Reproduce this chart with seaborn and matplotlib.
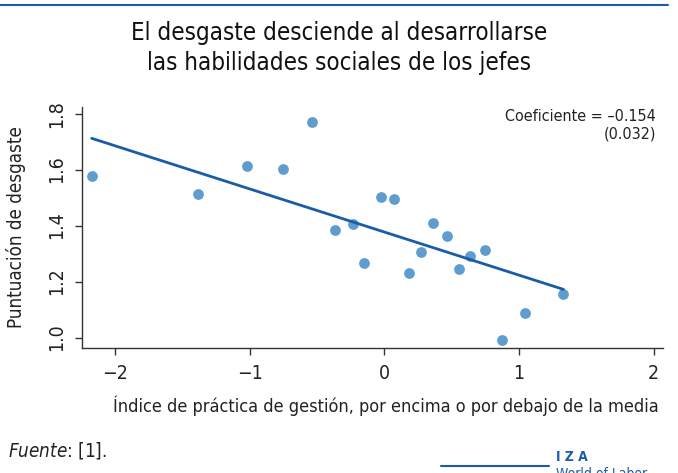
import matplotlib
matplotlib.use('Agg')
import matplotlib.pyplot as plt
import seaborn as sns
import pandas as pd
import numpy as np
from matplotlib.lines import Line2D

# Management practice index (x) vs burnout score (y)
indice = [-2.174, -1.386, -1.020, -0.753, -0.537, -0.364, -0.235, -0.148, -0.027, 0.072,
          0.181, 0.275, 0.362, 0.466, 0.553, 0.639, 0.748, 0.877, 1.045, 1.330]
desgaste = [1.576, 1.513, 1.614, 1.601, 1.769, 1.386, 1.407, 1.267, 1.502, 1.495,
            1.230, 1.304, 1.408, 1.363, 1.246, 1.292, 1.312, 0.990, 1.087, 1.156]
coef = -0.154
intercept = 1.377
x_ticks = [-2, -1, 0, 1, 2]
y_ticks = [1.0, 1.2, 1.4, 1.6, 1.8]

df = pd.DataFrame({'indice': indice, 'desgaste': desgaste})
fit_x = np.array([min(indice), max(indice)])
fit = pd.DataFrame({'indice': fit_x, 'desgaste': intercept + coef * fit_x})

sns.set_style('ticks')
plt.rcParams['font.family'] = ['DejaVu Sans']
plt.rcParams['font.stretch'] = 'condensed'

fig = plt.figure(figsize=(6.78, 4.73), dpi=100, facecolor='white')
ax = fig.add_axes([0.1205, 0.265, 0.8575, 0.509])

sns.scatterplot(data=df, x='indice', y='desgaste', ax=ax, s=60, color='#5f9ccf',
                linewidth=0, zorder=2)
sns.lineplot(data=fit, x='indice', y='desgaste', ax=ax, color='#1b5ca8', lw=2, zorder=3)

ax.set_xlim(-2.248, 2.07)
ax.set_ylim(0.964, 1.824)
ax.set_xticks(x_ticks)
ax.set_xticklabels(['\u22122', '\u22121', '0', '1', '2'])
ax.set_yticks(y_ticks)
ax.set_yticklabels([f'{v:.1f}' for v in y_ticks], rotation=90, va='center')
ax.tick_params(axis='both', labelsize=14, color='#333333', length=5, width=1, labelcolor='#222222')
ax.tick_params(axis='x', pad=7)
ax.tick_params(axis='y', pad=6)
for s in ['top', 'right']:
    ax.spines[s].set_visible(False)
for s in ['left', 'bottom']:
    ax.spines[s].set_color('#333333')
    ax.spines[s].set_linewidth(1)

ax.set_xlabel('Índice de práctica de gestión, por encima o por debajo de la media',
              fontsize=13, color='#222222')
ax.set_ylabel('Puntuación de desgaste', fontsize=13.5, color='#222222')
ax.xaxis.set_label_coords(0.523, -0.2)
ax.yaxis.set_label_coords(-0.095, 0.5)

ax.text(0.988, 0.99, 'Coeficiente = \u20130.154\n(0.032)', transform=ax.transAxes,
        ha='right', va='top', fontsize=11.5, color='#222222', linespacing=1.15,
        multialignment='right')

fig.text(0.5, 0.955, 'El desgaste desciende al desarrollarse\nlas habilidades sociales de los jefes',
         ha='center', va='top', fontsize=17.3, color='#111111', linespacing=1.3)

fig.text(0.012, 0.035, r'$\it{Fuente}$: [1].', fontsize=13.5, color='#222222')

# frame decoration
fig.add_artist(Line2D([0, 0.985], [0.99, 0.99], transform=fig.transFigure,
                      color='#1b5ca8', lw=1.5))
fig.add_artist(Line2D([0.65, 0.81], [0.015, 0.015], transform=fig.transFigure,
                      color='#1b5ca8', lw=1.5))
fig.text(0.82, 0.025, 'I Z A', color='#1b5ca8', fontsize=10, fontweight='bold')
fig.text(0.82, -0.01, 'World of Labor', color='#1b5ca8', fontsize=10)

fig.savefig('out.png', dpi=100, facecolor='white')
